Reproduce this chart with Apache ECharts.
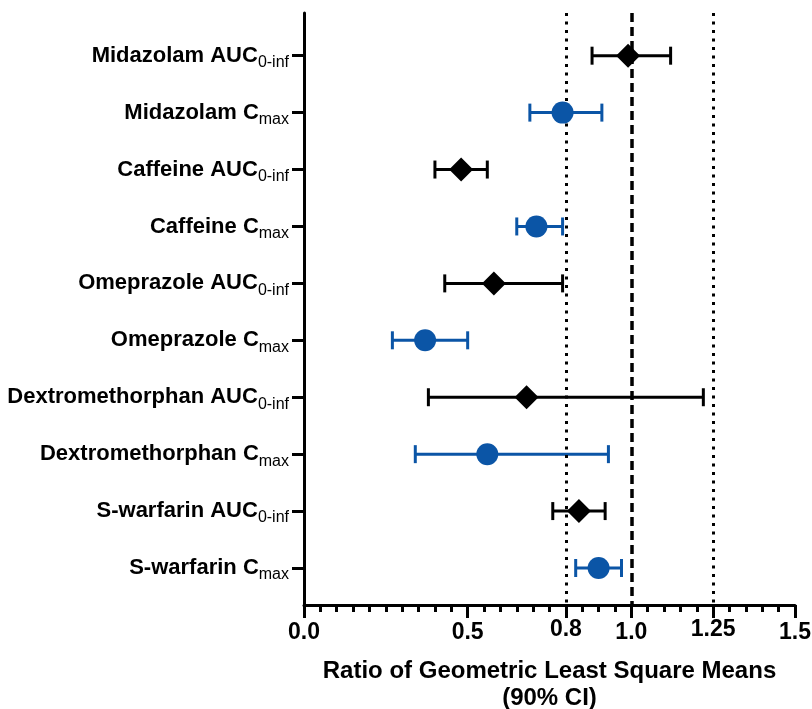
<!DOCTYPE html>
<html>
<head>
<meta charset="utf-8">
<script src="https://cdn.jsdelivr.net/npm/echarts@6/dist/echarts.min.js"></script>
<style>
  html, body { margin: 0; padding: 0; background: #fff; }
  #myChart { width: 812px; height: 709px; }
</style>
</head>
<body>
<div id="myChart"></div>
<script>
// rows, top to bottom
const drugNames = ['Midazolam AUC', 'Midazolam C', 'Caffeine AUC', 'Caffeine C', 'Omeprazole AUC',
  'Omeprazole C', 'Dextromethorphan AUC', 'Dextromethorphan C', 'S-warfarin AUC', 'S-warfarin C'];
const drugSubs = ['0-inf', 'max', '0-inf', 'max', '0-inf', 'max', '0-inf', 'max', '0-inf', 'max'];
const ratio = [0.99, 0.79, 0.48, 0.71, 0.58, 0.37, 0.68, 0.56, 0.84, 0.90];
const ciLow = [0.88, 0.69, 0.40, 0.65, 0.43, 0.27, 0.38, 0.34, 0.76, 0.83];
const ciHigh = [1.12, 0.91, 0.56, 0.79, 0.79, 0.50, 1.22, 0.93, 0.92, 0.97];
const xTickLabels = [0, 0.5, 0.8, 1.0, 1.25, 1.5];
const refLines = [0.8, 1.0, 1.25];

const BLUE = '#0b55a6';
const FONT = '"Liberation Sans", Arial, sans-serif';

const rows = drugNames.map((d, i) => i + 1);
const isAuc = i => drugSubs[i] === '0-inf';

function pointData(auc) {
  return rows.filter((r, i) => isAuc(i) === auc).map(r => [ratio[r - 1], r]);
}
function barData(auc) {
  return rows.filter((r, i) => isAuc(i) === auc).map(r => [ciLow[r - 1], ciHigh[r - 1], r]);
}

// horizontal error bar with end caps
function renderBar(color) {
  return function (params, api) {
    const a = api.coord([api.value(0), api.value(2)]);
    const b = api.coord([api.value(1), api.value(2)]);
    const h = 9;
    const style = { stroke: color, lineWidth: 3, fill: null };
    return {
      type: 'group',
      children: [
        { type: 'line', shape: { x1: a[0], y1: a[1], x2: b[0], y2: b[1] }, style: style },
        { type: 'line', shape: { x1: a[0], y1: a[1] - h, x2: a[0], y2: a[1] + h }, style: style },
        { type: 'line', shape: { x1: b[0], y1: b[1] - h, x2: b[0], y2: b[1] + h }, style: style }
      ]
    };
  };
}

let myChart = echarts.init(document.getElementById('myChart'));

myChart.setOption({
  animation: false,
  textStyle: { fontFamily: FONT },
  grid: { left: 304, right: 17, top: 13, bottom: 104, containLabel: false, outerBoundsMode: 'none' },
  xAxis: [
    {
      // minor ticks every 0.05
      type: 'value', min: 0, max: 1.5, interval: 0.05,
      axisLine: { show: true, lineStyle: { color: '#000', width: 3 } },
      axisTick: { show: true, length: 7, lineStyle: { color: '#000', width: 3 } },
      axisLabel: { show: false },
      splitLine: { show: false }
    },
    {
      type: 'value', position: 'bottom', min: 0, max: 1.5,
      axisLine: { show: false },
      axisTick: { show: true, length: 13, customValues: xTickLabels, lineStyle: { color: '#000', width: 3 } },
      axisLabel: {
        customValues: xTickLabels, margin: 14,
        fontSize: 23, fontWeight: 'bold', color: '#000', fontFamily: FONT, lineHeight: 28,
        // 0.8 and 1.25 sit a little higher in the original
        formatter: v => (v === 0.8 || v === 1.25) ? '{hi|' + String(v) + '}' : v.toFixed(1),
        rich: {
          hi: { fontSize: 23, fontWeight: 'bold', color: '#000', fontFamily: FONT, lineHeight: 22 }
        }
      },
      splitLine: { show: false },
      name: 'Ratio of Geometric Least Square Means\n(90% CI)',
      nameLocation: 'middle', nameGap: 53,
      nameTextStyle: { fontSize: 24, fontWeight: 'bold', color: '#000', lineHeight: 27, fontFamily: FONT }
    }
  ],
  yAxis: {
    type: 'value', inverse: true, min: 0.25, max: 10.65,
    axisLine: { show: true, lineStyle: { color: '#000', width: 3 } },
    axisTick: { show: true, length: 12, customValues: rows, lineStyle: { color: '#000', width: 3 } },
    splitLine: { show: false },
    axisLabel: {
      customValues: rows, margin: 15, color: '#000',
      formatter: v => '{m|' + drugNames[v - 1] + '}{s|' + drugSubs[v - 1] + '}',
      rich: {
        m: { fontSize: 22, fontWeight: 'bold', color: '#000', fontFamily: FONT, lineHeight: 22, verticalAlign: 'top' },
        s: { fontSize: 16, color: '#000', fontFamily: FONT, lineHeight: 16, padding: [10, 0, 0, 0], verticalAlign: 'top' }
      }
    }
  },
  series: [
    {
      type: 'line', data: [], z: 1, silent: true,
      markLine: {
        symbol: 'none', silent: true, label: { show: false },
        data: refLines.map(v => ({
          xAxis: v,
          lineStyle: v === 1.0
            ? { color: '#000', width: 3.5, type: [9, 5] }
            : { color: '#000', width: 3, type: [3, 5.5] }
        }))
      }
    },
    { type: 'custom', renderItem: renderBar('#000'), data: barData(true), encode: { x: [0, 1], y: 2 }, z: 3 },
    { type: 'custom', renderItem: renderBar(BLUE), data: barData(false), encode: { x: [0, 1], y: 2 }, z: 3 },
    {
      type: 'scatter', data: pointData(true), symbol: 'diamond', symbolSize: [24, 24],
      itemStyle: { color: '#000', opacity: 1 }, z: 5
    },
    {
      type: 'scatter', data: pointData(false), symbol: 'circle', symbolSize: 22,
      itemStyle: { color: BLUE, opacity: 1 }, z: 5
    }
  ]
});
</script>
</body>
</html>
